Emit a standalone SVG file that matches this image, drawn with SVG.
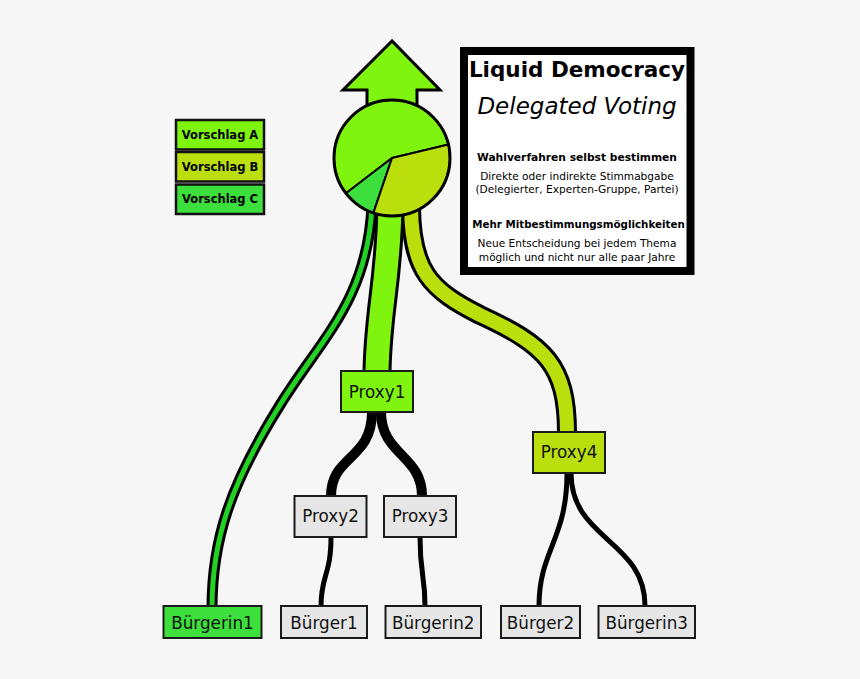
<svg xmlns="http://www.w3.org/2000/svg" width="860" height="679" viewBox="0 0 860 679">
<style>
.node rect{stroke:#1a1a1a;stroke-width:2}
.node text{font-family:"DejaVu Sans",sans-serif;font-size:16.8px;fill:#111;text-anchor:middle}
.gray rect{fill:#e6e6e6}
.leg rect{stroke:#111;stroke-width:2.5}
.leg text{font-family:"DejaVu Sans",sans-serif;font-weight:bold;font-size:11.5px;fill:#000;text-anchor:middle}
.blk{fill:none;stroke:#000;stroke-linecap:butt}
.info text{font-family:"DejaVu Sans",sans-serif;text-anchor:middle;fill:#000}
.pie{stroke:#000;stroke-width:2;stroke-linejoin:round}
</style>
<rect width="860" height="679" fill="#f6f6f6"/>
<g id="connectors">
  <path class="blk" d="M 372 205 C 368 300, 320 340, 280 405 C 230 485, 212 540, 212 608" stroke-width="11"/>
  <path d="M 372 205 C 368 300, 320 340, 280 405 C 230 485, 212 540, 212 608" fill="none" stroke="#22d122" stroke-width="5"/>
  <path class="blk" d="M 411 205 C 411 270, 430 290, 480 315 C 545 345, 567 365, 567 433" stroke-width="20"/>
  <path d="M 411 205 C 411 270, 430 290, 480 315 C 545 345, 567 365, 567 433" fill="none" stroke="#badf0d" stroke-width="14"/>
  <path class="blk" d="M 390 205 C 389 280, 378 310, 377 372" stroke-width="29"/>
  <path d="M 390 205 C 389 280, 378 310, 377 372" fill="none" stroke="#7ef40f" stroke-width="23"/>
  <path class="blk" d="M 372 412 C 372 460, 331 455, 331 496" stroke-width="10"/>
  <path class="blk" d="M 381 412 C 381 455, 422 455, 422 496" stroke-width="10"/>
  <path class="blk" d="M 331 537 C 331 575, 321 575, 321 606" stroke-width="5"/>
  <path class="blk" d="M 420 537 C 420 575, 425 575, 425 606" stroke-width="5"/>
  <path class="blk" d="M 567 473 C 567 540, 539 550, 539 606" stroke-width="5"/>
  <path class="blk" d="M 571 473 C 571 540, 645 540, 645 606" stroke-width="5"/>
</g>
<g id="result">
  <polygon points="392,41 343,90 367,90 367,110 417,110 417,90 440,90" fill="#7ef40f" stroke="#000" stroke-width="3" stroke-linejoin="miter"/>
  <path class="pie" d="M392,158 L448.4,144.5 A58,58 0 1,0 346,193.3 Z" fill="#7ef40f"/>
  <path class="pie" d="M392,158 L346,193.3 A58,58 0 0,0 373.4,212.9 Z" fill="#3cdf3c"/>
  <path class="pie" d="M392,158 L373.4,212.9 A58,58 0 0,0 448.4,144.5 Z" fill="#badf0d"/>
  <circle cx="392" cy="158" r="58" fill="none" stroke="#000" stroke-width="3"/>
</g>
<g id="legend" class="leg">
  <g id="vorschlagA"><rect x="176" y="120" width="88" height="29.5" fill="#7ef40f"/><text x="220" y="138.5">Vorschlag A</text></g>
  <g id="vorschlagB"><rect x="176" y="152" width="88" height="29.5" fill="#badf0d"/><text x="220" y="170.5">Vorschlag B</text></g>
  <g id="vorschlagC"><rect x="176" y="184.5" width="88" height="29.5" fill="#3cdf3c"/><text x="220" y="203">Vorschlag C</text></g>
</g>
<g id="info" class="info">
  <rect x="464" y="51" width="226.5" height="220" fill="#fff" stroke="#000" stroke-width="8"/>
  <text x="577" y="77" font-weight="bold" font-size="21.5px">Liquid Democracy</text>
  <text x="577" y="114" font-style="italic" font-size="23px">Delegated Voting</text>
  <text x="577" y="161" font-weight="bold" font-size="10.7px">Wahlverfahren selbst bestimmen</text>
  <text x="577" y="180" font-size="10.6px" fill="#222">Direkte oder indirekte Stimmabgabe</text>
  <text x="577" y="193" font-size="10.6px" fill="#222">(Delegierter, Experten-Gruppe, Partei)</text>
  <text x="578.5" y="227.5" font-weight="bold" font-size="10.3px">Mehr Mitbestimmungsmöglichkeiten</text>
  <text x="577" y="247" font-size="10.6px" fill="#222">Neue Entscheidung bei jedem Thema</text>
  <text x="577" y="261" font-size="10.6px" fill="#222">möglich und nicht nur alle paar Jahre</text>
</g>
<g id="proxy1" class="node"><rect x="341" y="371" width="72" height="41" fill="#7ef40f"/><text x="377" y="398">Proxy1</text></g>
<g id="proxy2" class="node gray"><rect x="294.5" y="496" width="72" height="41"/><text x="330.5" y="522">Proxy2</text></g>
<g id="proxy3" class="node gray"><rect x="384" y="496" width="72" height="41"/><text x="420" y="522">Proxy3</text></g>
<g id="proxy4" class="node"><rect x="533" y="432" width="72" height="41" fill="#badf0d"/><text x="569" y="458">Proxy4</text></g>
<g id="buergerin1" class="node"><rect x="163.5" y="606" width="98" height="32" fill="#3cdf3c"/><text x="212.5" y="628.5">Bürgerin1</text></g>
<g id="buerger1" class="node gray"><rect x="281" y="606" width="86" height="32"/><text x="324" y="628.5">Bürger1</text></g>
<g id="buergerin2" class="node gray"><rect x="385.5" y="606" width="95.5" height="32"/><text x="433.2" y="628.5">Bürgerin2</text></g>
<g id="buerger2" class="node gray"><rect x="501" y="606" width="79" height="32"/><text x="540.5" y="628.5">Bürger2</text></g>
<g id="buergerin3" class="node gray"><rect x="598.5" y="606" width="96.5" height="32"/><text x="646.7" y="628.5">Bürgerin3</text></g>
</svg>
